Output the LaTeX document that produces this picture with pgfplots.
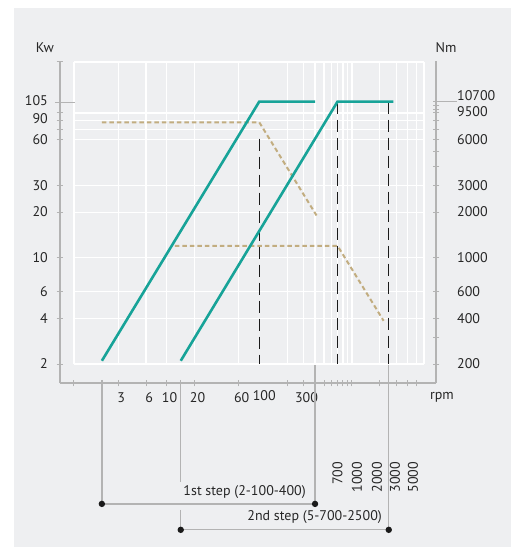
\documentclass[border=0pt]{standalone}
\usepackage{fontspec}
\setmainfont{PT Sans}
\usepackage{pgfplots}
\pgfplotsset{compat=1.18}
\definecolor{bg}{HTML}{EEEFF1}
\definecolor{axgray}{HTML}{B3B3B3}
\definecolor{tealc}{HTML}{17A398}
\definecolor{tanc}{HTML}{C2AD80}
\definecolor{ink}{HTML}{1A1A1A}
\definecolor{txt}{HTML}{262626}
\begin{document}
\begin{tikzpicture}[font=\fontsize{14bp}{16bp}\selectfont, text=txt]
\path[use as bounding box] (-74bp,-183bp) rectangle (437bp,364bp);
\fill[white] (-74bp,-183bp) rectangle (437bp,364bp);
\fill[bg] (-60bp,-183bp) rectangle (437bp,356bp);

% Grid (plot area)
\begin{axis}[at={(0bp,0bp)}, anchor=south west, scale only axis,
  width=350bp, height=302bp, xmode=log, ymode=log,
  xmin=1, xmax=6000, ymin=2, ymax=195,
  axis line style={draw=none}, tick style={draw=none}, major tick length=0pt,
  xtick={1,3,6,10,20,60,200,300,400,500,600,700,800,900,1000,2000,3000,4000,5000,6000},
  ytick={2,4,6,10,20,30,60,70,80,90,195},
  minor xtick={}, minor ytick={},
  xticklabels=\empty, yticklabels=\empty,
  grid=major, major grid style={white, line width=1.2bp},
]
\end{axis}

% Kw axis and rpm axis
\begin{axis}[at={(-14bp,-19bp)}, anchor=south west, scale only axis,
  width=376bp, height=322bp, xmode=log, ymode=log,
  xmin=0.7064, xmax=8085, ymin=1.4998, ymax=197.5, clip=false,
  axis x line*=bottom, axis y line*=left,
  axis line style={draw=axgray, line width=1.3bp, -},
  tick style={draw=axgray, line width=1bp},
  tick align=center, major tick length=7bp,
  minor xtick={}, minor ytick={},
  xtick={1,3,6,10,20,60,200,300,500,600,700,800,900,1000,2000,3000,4000,5000},
  xticklabels={,3,6,10,20,60,,300,,,,,,,,,,},
  ytick={2,4,6,10,20,30,60,70,80,90,105,195},
  yticklabels={2,4,6,10,20,30,60,,,\raisebox{-6bp}[\height][\depth]{90},\raisebox{2bp}[\height][\depth]{105},},
  tick label style={font=\fontsize{14bp}{16bp}\selectfont, text=txt},
  xticklabel style={xshift=3bp, yshift=-3bp},
  yticklabel style={xshift=-8bp, inner sep=0.5bp},
]
\draw[axgray, line width=1bp] (axis cs:0.6236,105) -- (axis cs:1.025,105);
\addplot[axgray, line width=1.3bp, forget plot] coordinates {(2,1.571) (2,0.240)};
\addplot[axgray, line width=1.3bp, forget plot] coordinates {(14.2,1.571) (14.2,0.335)};
\addplot[axgray, line width=1.3bp, forget plot] coordinates {(14.2,0.219) (14.2,0.162)};
\addplot[axgray, line width=1.3bp, forget plot] coordinates {(400,1.97) (400,0.240)};
\addplot[axgray, line width=1.3bp, forget plot] coordinates {(2500,1.97) (2500,0.162)};
\addplot[axgray, line width=1.3bp, forget plot, mark=*, mark size=2.5bp, mark options={draw=ink, fill=ink}] coordinates {(2,0.240) (400,0.240)};
\addplot[axgray, line width=1.3bp, forget plot, mark=*, mark size=2.5bp, mark options={draw=ink, fill=ink}] coordinates {(14.2,0.162) (2500,0.162)};
\node[anchor=north, inner sep=0pt, xshift=5bp] at (axis cs:100,1.35) {100};
\node[anchor=east, inner sep=0pt] at (axis cs:319,0.287) {1st step (2-100-400)};
\node[anchor=east, inner sep=0pt] at (axis cs:2113,0.196) {2nd step (5-700-2500)};
\node[rotate=90, anchor=east, inner sep=0pt] at (axis cs:700,0.454) {700};
\node[rotate=90, anchor=east, inner sep=0pt] at (axis cs:1135,0.454) {1000};
\node[rotate=90, anchor=east, inner sep=0pt] at (axis cs:1866,0.454) {2000};
\node[rotate=90, anchor=east, inner sep=0pt] at (axis cs:2917,0.454) {3000};
\node[rotate=90, anchor=east, inner sep=0pt] at (axis cs:4565,0.454) {5000};
\end{axis}

% Nm axis (right) and torque lines
\begin{axis}[at={(-14bp,-19bp)}, anchor=south west, scale only axis,
  width=376bp, height=322bp, xmode=log, ymode=log,
  xmin=0.7064, xmax=8085, ymin=149.98, ymax=19750, clip=false,
  axis x line=none, xtick=\empty,
  axis y line*=right,
  axis line style={draw=axgray, line width=1.3bp, -},
  tick style={draw=axgray, line width=1bp},
  tick align=center, major tick length=7bp,
  minor xtick={}, minor ytick={},
  ytick={200,300,400,600,1000,2000,3000,4000,5000,6000,7000,8000,9000,9500,10000,10700},
  yticklabels={200,,400,600,1000,2000,3000,,,6000,,,,\raisebox{-2bp}[\height][\depth]{9500},,\raisebox{6bp}[\height][\depth]{10700}},
  tick label style={font=\fontsize{14bp}{16bp}\selectfont, text=txt},
  yticklabel style={anchor=west, xshift=17bp, inner sep=0.5bp},
]
\draw[axgray, line width=1bp] (axis cs:8085,10700) -- (axis cs:13620,10700);
\addplot[tanc, line width=2bp, dash pattern=on 4.5bp off 3bp] coordinates {(2,7800) (100,7800) (415,1900)};
\addplot[tanc, line width=2bp, dash pattern=on 4.5bp off 3bp] coordinates {(12.3,1200) (700,1200) (2200,385)};
\end{axis}

% Power lines (Kw) on top
\begin{axis}[at={(0bp,0bp)}, anchor=south west, scale only axis,
  width=350bp, height=302bp, xmode=log, ymode=log,
  xmin=1, xmax=6000, ymin=2, ymax=195, clip=false, hide axis]
\addplot[ink, line width=1.3bp, dash pattern=on 12bp off 6bp] coordinates {(100,61) (100,2)};
\addplot[ink, line width=1.3bp, dash pattern=on 12bp off 6bp] coordinates {(700,107) (700,2)};
\addplot[ink, line width=1.3bp, dash pattern=on 12bp off 6bp] coordinates {(2500,107) (2500,2)};
\addplot[tealc, line width=2.6bp] coordinates {(2,2.1) (100,107) (400,107)};
\addplot[tealc, line width=2.6bp] coordinates {(14.2,2.1) (700,107) (2800,107)};
\end{axis}

\node at (-29bp,316bp) {Kw};
\node at (372bp,316bp) {Nm};
\node at (368bp,-33bp) {rpm};
\end{tikzpicture}
\end{document}
